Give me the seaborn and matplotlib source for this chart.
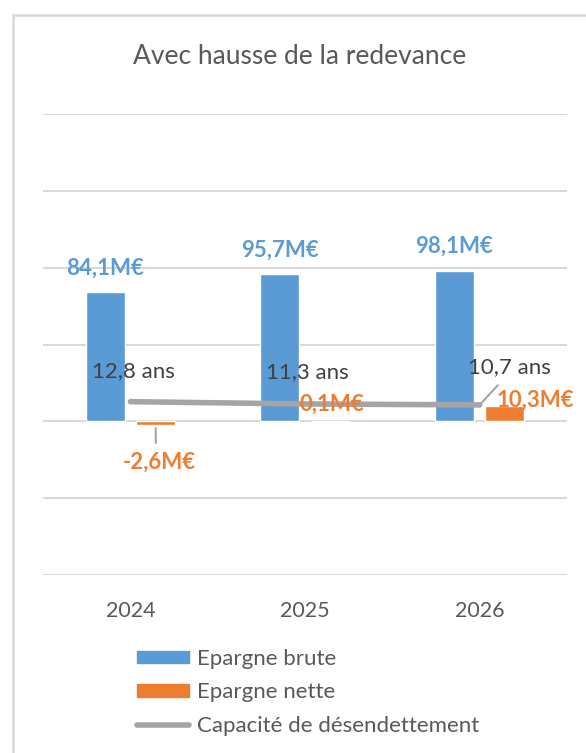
import matplotlib
matplotlib.use("Agg")
import matplotlib.pyplot as plt
import matplotlib.patches as mpatches
from matplotlib.lines import Line2D
import numpy as np
import pandas as pd
import seaborn as sns

# --- data -------------------------------------------------------------
years = ["2024", "2025", "2026"]
epargne_brute = [84.1, 95.7, 98.1]
epargne_nette = [-2.6, 0.1, 10.3]
capacite = [12.8, 11.3, 10.7]
series_names = ["Epargne brute", "Epargne nette", "Capacité de désendettement"]
title = "Avec hausse de la redevance"

BLUE = "#5B9BD5"
ORANGE = "#ED7D31"
GREY = "#A5A5A5"
TEXT = "#595959"
GRID = "#D9D9D9"

sns.set_theme(style="white")
plt.rcParams["font.family"] = ["Lato", "DejaVu Sans"]

bars = pd.DataFrame({
    "annee": years * 2,
    "valeur": epargne_brute + epargne_nette,
    "serie": [series_names[0]] * 3 + [series_names[1]] * 3,
})

fig = plt.figure(figsize=(5.86, 7.53), dpi=100)
W, H = 586, 753
ax = fig.add_axes([43 / W, 1 - 575 / H, (567 - 43) / W, (575 - 114) / H])

sns.barplot(data=bars, x="annee", y="valeur", hue="serie",
            palette=[BLUE, ORANGE], width=0.58, gap=0.23,
            saturation=1, ax=ax, legend=False, zorder=2)
sns.lineplot(x=years, y=capacite, color=GREY, linewidth=4, ax=ax,
             zorder=3, legend=False)

ax.set_ylim(-100, 200)
ax.set_xlim(-0.5, 2.5)
ax.set_yticks(np.arange(-100, 201, 50))
ax.yaxis.grid(True, color=GRID, linewidth=1.5)
ax.set_axisbelow(True)
ax.tick_params(axis="y", left=False, labelleft=False)
ax.tick_params(axis="x", bottom=False, labelsize=15.5, colors=TEXT, pad=13)
ax.set_xlabel("")
ax.set_ylabel("")
for s in ax.spines.values():
    s.set_visible(False)

fmt = lambda v: f"{v:.1f}".replace(".", ",")
LABEL_SIZE = 16

# Epargne brute labels above bars
brute_c, nette_c = ax.containers[0], ax.containers[1]
ax.bar_label(brute_c, labels=[fmt(v) + "M€" for v in epargne_brute],
             padding=10, color=BLUE, fontsize=LABEL_SIZE, fontweight="bold")

# Epargne nette labels (offsets in pixels, leader where needed)
nette_offsets = [(4, -37), (2, 17), (30, 5)]
for bar, v, off in zip(nette_c, epargne_nette, nette_offsets):
    cx = bar.get_x() + bar.get_width() / 2
    leader = (dict(arrowstyle="-", color=GREY, lw=1.5, shrinkA=4, shrinkB=2,
                   relpos=(0.45, 1.0)) if v < 0 else None)
    ax.annotate(fmt(v) + "M€", xy=(cx, v), xytext=off,
                textcoords="offset pixels", ha="center", va="center",
                color=ORANGE, fontsize=LABEL_SIZE, fontweight="bold",
                arrowprops=leader, zorder=5)

# Capacité de désendettement labels
cap_offsets = [(3, 31), (2, 32), (30, 38)]
for i, (v, off) in enumerate(zip(capacite, cap_offsets)):
    leader = (dict(arrowstyle="-", color=GREY, lw=1.5, shrinkA=5, shrinkB=1,
                   relpos=(0.45, 0.0)) if i == 2 else None)
    ax.annotate(fmt(v) + " ans", xy=(i, v), xytext=off,
                textcoords="offset pixels", ha="center", va="center",
                color="#404040", fontsize=LABEL_SIZE, arrowprops=leader, zorder=5)

fig.text(300 / W, 1 - 57 / H, title, ha="center", va="center",
         fontsize=19, color=TEXT)

handles = [mpatches.Patch(color=BLUE), mpatches.Patch(color=ORANGE),
           Line2D([], [], color=GREY, linewidth=4, solid_capstyle="round")]
fig.legend(handles, series_names, loc="upper left",
           bbox_to_anchor=(137 / W, 1 - 649 / H), frameon=False,
           fontsize=16, labelcolor=TEXT, handlelength=2.35, handleheight=0.5,
           handletextpad=0.36, labelspacing=0.6, borderpad=0, borderaxespad=0)

# chart area border
fig.patches.append(mpatches.Rectangle((13 / W, -0.05), 1.0, 1 - 15 / H + 0.05,
                                      transform=fig.transFigure, fill=False,
                                      edgecolor=GRID, linewidth=1.8))

fig.savefig("out.png", dpi=100)
